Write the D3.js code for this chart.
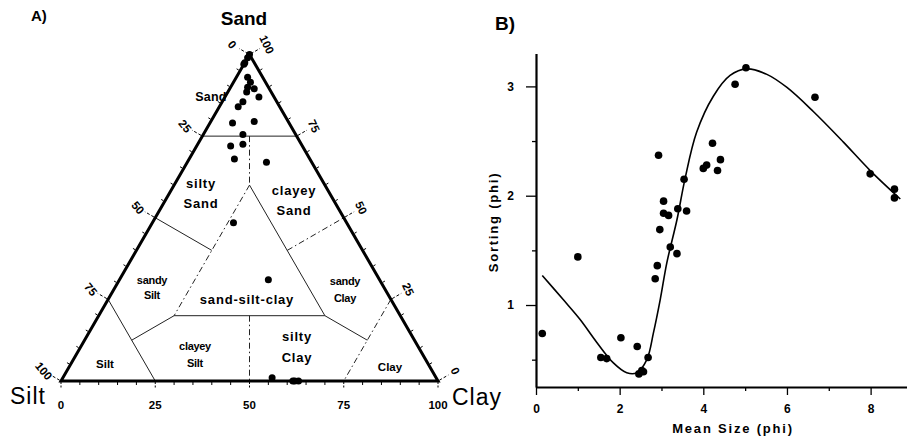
<!DOCTYPE html>
<html><head><meta charset="utf-8">
<script src="https://cdn.jsdelivr.net/npm/d3@7"></script>
<style>body{margin:0;background:#fff} svg{display:block;font-family:"Liberation Sans",Arial,sans-serif}</style>
</head><body><svg id="c" width="907" height="441"></svg>
<script>
// ---------- Panel A: ternary data (percent) ----------
const sandPct = [100, 99, 97.5, 97, 93, 91.5, 90, 89.5, 88.5, 87, 85.5, 84, 79, 79.5, 75.5, 72, 72.5, 68, 67, 48.5, 31, 1, 0, 0, 0];
const siltPct = [0, 1, 2.5, 3, 4, 4, 5.5, 4, 6.5, 4, 9, 11, 15, 9, 14, 19, 15.5, 20, 12, 30, 29.5, 43.5, 38.5, 38, 37];
const clayPct = [0, 0, 0, 0, 3, 4.5, 4.5, 6.5, 5, 9, 5.5, 5, 6, 11.5, 10.5, 9, 12, 12, 21, 21.5, 39.5, 55.5, 61.5, 62, 63];
const sideTickLabels = [0, 25, 50, 75, 100];
// class boundaries: [sand1, silt1, clay1, sand2, silt2, clay2, dashed]
const boundaries = [
  [75,25,0, 75,0,25, 0],
  [75,12.5,12.5, 60,20,20, 1],
  [60,20,20, 20,60,20, 1],
  [60,20,20, 20,20,60, 0],
  [50,50,0, 40,40,20, 0],
  [40,20,40, 50,0,50, 1],
  [20,60,20, 20,20,60, 0],
  [20,40,40, 0,50,50, 1],
  [20,60,20, 12.5,75,12.5, 0],
  [20,20,60, 12.5,12.5,75, 0],
  [25,75,0, 0,75,25, 0],
  [25,0,75, 0,25,75, 1]
];

// ---------- Panel B data ----------
const meanSize = [0.15, 1.0, 1.55, 1.69, 2.03, 2.42, 2.46, 2.53, 2.57, 2.68, 2.85, 2.90, 2.93, 2.96, 3.05, 3.05, 3.17, 3.21, 3.37, 3.39, 3.54, 3.60, 4.0, 4.08, 4.22, 4.34, 4.41, 4.76, 5.02, 6.67, 7.99, 8.57, 8.57];
const sorting  = [0.74, 1.44, 0.52, 0.51, 0.70, 0.62, 0.37, 0.40, 0.39, 0.52, 1.24, 1.36, 2.37, 1.69, 1.95, 1.84, 1.82, 1.53, 1.47, 1.88, 2.15, 1.86, 2.25, 2.28, 2.48, 2.23, 2.33, 3.02, 3.17, 2.90, 2.20, 2.06, 1.98];
const curveSize    = [0.15, 0.65, 1.05, 1.45, 1.85, 2.17, 2.41, 2.65, 2.81, 2.97, 3.13, 3.37, 3.56, 3.84, 4.24, 4.64, 5.04, 5.52, 6.0, 6.63, 7.35, 7.99, 8.71];
const curveSorting = [1.27, 1.05, 0.87, 0.66, 0.47, 0.38, 0.38, 0.50, 0.75, 1.05, 1.39, 1.78, 2.15, 2.58, 2.91, 3.10, 3.16, 3.11, 2.99, 2.77, 2.49, 2.23, 1.97];
const xTickValues = [0, 1, 2, 3, 4, 5, 6, 7, 8];
const yTickValues = [0.5, 1, 1.5, 2, 2.5, 3];

const svg = d3.select("#c");

// ================= Panel A =================
const tx = d3.scaleLinear().domain([0, 100]).range([61, 438]);
const ty = d3.scaleLinear().domain([0, 100]).range([381, 54.5]);
const proj = (s, z, c) => [tx(c + s / 2), ty(s)];
const A = svg.append("g");

// boundaries
boundaries.forEach(b => {
  const p1 = proj(b[0], b[1], b[2]), p2 = proj(b[3], b[4], b[5]);
  A.append("line").attr("x1", p1[0]).attr("y1", p1[1]).attr("x2", p2[0]).attr("y2", p2[1])
    .attr("stroke", "#222").attr("stroke-width", 1)
    .attr("stroke-dasharray", b[6] ? "6,3,1.5,3" : null);
});

// outline
const verts = [proj(100,0,0), proj(0,100,0), proj(0,0,100)];
A.append("path").attr("d", "M" + verts.map(v => v.join(",")).join("L") + "Z")
  .attr("fill", "none").attr("stroke", "#000").attr("stroke-width", 3).attr("stroke-linejoin", "miter");

// ticks
const nL = [-0.866, -0.5], nR = [0.866, -0.5];
d3.range(0, 101, 5).forEach(t => {
  const major = t % 25 === 0;
  const b = proj(0, 100 - t, t);
  A.append("line").attr("x1", b[0]).attr("y1", b[1] + 1).attr("x2", b[0]).attr("y2", b[1] + (major ? 8 : 4))
    .attr("stroke", "#000").attr("stroke-width", 1).attr("stroke-dasharray", major ? "2,1.5" : null);
  const l = proj(100 - t, t, 0);
  const len = major ? 12 : 4;
  A.append("line").attr("x1", l[0] + nL[0]*1.5).attr("y1", l[1] + nL[1]*1.5)
    .attr("x2", l[0] + nL[0]*len).attr("y2", l[1] + nL[1]*len)
    .attr("stroke", "#000").attr("stroke-width", 1).attr("stroke-dasharray", major ? "3,2" : null);
  const r = proj(t, 0, 100 - t);
  A.append("line").attr("x1", r[0] + nR[0]*1.5).attr("y1", r[1] + nR[1]*1.5)
    .attr("x2", r[0] + nR[0]*len).attr("y2", r[1] + nR[1]*len)
    .attr("stroke", "#000").attr("stroke-width", 1).attr("stroke-dasharray", major ? "3,2" : null);
});

// tick labels
sideTickLabels.forEach(v => {
  const b = proj(0, 100 - v, v);
  A.append("text").attr("x", b[0]).attr("y", 409).attr("text-anchor", "middle")
    .attr("font-size", 11.5).attr("font-weight", "bold").text(v);
  const l = proj(100 - v, v, 0);
  const lx = l[0] + nL[0]*20, ly = l[1] + nL[1]*20;
  A.append("text").attr("transform", `translate(${lx},${ly}) rotate(50)`).attr("text-anchor", "middle")
    .attr("dy", "0.35em").attr("font-size", 11.5).attr("font-weight", "bold").text(v);
  const r = proj(v, 0, 100 - v);
  const rx = r[0] + nR[0]*20, ry = r[1] + nR[1]*20;
  A.append("text").attr("transform", `translate(${rx},${ry}) rotate(65)`).attr("text-anchor", "middle")
    .attr("dy", "0.35em").attr("font-size", 11.5).attr("font-weight", "bold").text(v);
});

// region labels
function lab(lines, x, y0, size, dy, ls) {
  lines.forEach((t, i) => {
    A.append("text").attr("x", x).attr("y", y0 + i * dy).attr("text-anchor", "middle")
      .attr("font-size", size).attr("font-weight", "bold").attr("letter-spacing", ls).text(t);
  });
}
lab(["Sand"], 211, 101, 12.5, 0, 0.2);
lab(["silty", "Sand"], 201, 188, 13, 20, 0.8);
lab(["clayey", "Sand"], 294, 195, 13, 20, 0.8);
lab(["sandy", "Silt"], 152, 284, 11, 15, -0.3);
lab(["sand-silt-clay"], 247, 304, 13, 0, 0.8);
lab(["sandy", "Clay"], 345, 285, 11, 17, -0.3);
lab(["clayey", "Silt"], 195, 350, 11, 17, -0.3);
lab(["silty", "Clay"], 297, 341, 13, 21, 0.8);
lab(["Silt"], 105, 368, 11.5, 0, 0);
lab(["Clay"], 390, 371, 11.5, 0, 0);

// vertex labels
A.append("text").attr("x", 244).attr("y", 25).attr("text-anchor", "middle").attr("font-size", 19).attr("font-weight", "bold").text("Sand");
A.append("text").attr("x", 10).attr("y", 404).attr("font-size", 23).attr("letter-spacing", 1).text("Silt");
A.append("text").attr("x", 452).attr("y", 405).attr("font-size", 23).attr("letter-spacing", 1).text("Clay");
A.append("text").attr("x", 31).attr("y", 21).attr("font-size", 15).attr("font-weight", "bold").text("A)");

// points
A.selectAll("circle.t").data(sandPct.map((s, i) => [s, siltPct[i], clayPct[i]])).enter()
  .append("circle").attr("class", "t")
  .attr("cx", d => proj(d[0], d[1], d[2])[0]).attr("cy", d => proj(d[0], d[1], d[2])[1])
  .attr("r", 3.5).attr("fill", "#000");

// ================= Panel B =================
const xs = d3.scaleLinear().domain([0, 8.87]).range([536, 907]);
const ys = d3.scaleLinear().domain([0.25, 3.3]).range([387, 53.6]);
const B = svg.append("g");

const xAxis = d3.axisBottom(xs).tickValues(xTickValues).tickSizeInner(8).tickSizeOuter(0).tickPadding(9)
  .tickFormat(d => d % 2 === 0 ? d : "");
const gx = B.append("g").attr("transform", "translate(0,387)").call(xAxis);
gx.select(".domain").attr("stroke-width", 2);
gx.selectAll(".tick line").attr("y2", d => d % 2 === 0 ? 8 : 4).attr("stroke-width", 1.3);
gx.selectAll(".tick text").attr("font-size", 12).attr("font-weight", "bold").attr("font-family", "Liberation Sans, Arial, sans-serif");

const yAxis = d3.axisLeft(ys).tickValues(yTickValues).tickSizeInner(10).tickSizeOuter(0).tickPadding(12)
  .tickFormat(d => Number.isInteger(d) ? d : "");
const gy = B.append("g").attr("transform", "translate(536,0)").call(yAxis);
gy.select(".domain").attr("stroke-width", 2.2);
gy.selectAll(".tick line").attr("x2", d => Number.isInteger(d) ? -10 : -4).attr("stroke-width", 1.3);
gy.selectAll(".tick text").attr("font-size", 12).attr("font-weight", "bold").attr("font-family", "Liberation Sans, Arial, sans-serif");

// axis titles
B.append("text").attr("x", 733).attr("y", 433).attr("text-anchor", "middle").attr("font-size", 13)
  .attr("font-weight", "bold").attr("letter-spacing", 1.8).text("Mean Size (phi)");
B.append("text").attr("transform", "translate(498,222) rotate(-90)").attr("text-anchor", "middle").attr("font-size", 13)
  .attr("font-weight", "bold").attr("letter-spacing", 1.8).text("Sorting (phi)");
B.append("text").attr("x", 495).attr("y", 30).attr("font-size", 19).attr("font-weight", "bold").text("B)");

// curve
const line = d3.line().x(d => xs(d[0])).y(d => ys(d[1])).curve(d3.curveCatmullRom.alpha(0.5));
B.append("path").datum(curveSize.map((x, i) => [x, curveSorting[i]]))
  .attr("d", line).attr("fill", "none").attr("stroke", "#000").attr("stroke-width", 1.6);

// points
B.selectAll("circle.p").data(meanSize.map((x, i) => [x, sorting[i]])).enter()
  .append("circle").attr("class", "p")
  .attr("cx", d => xs(d[0])).attr("cy", d => ys(d[1])).attr("r", 3.8).attr("fill", "#000");
</script>
</body></html>
